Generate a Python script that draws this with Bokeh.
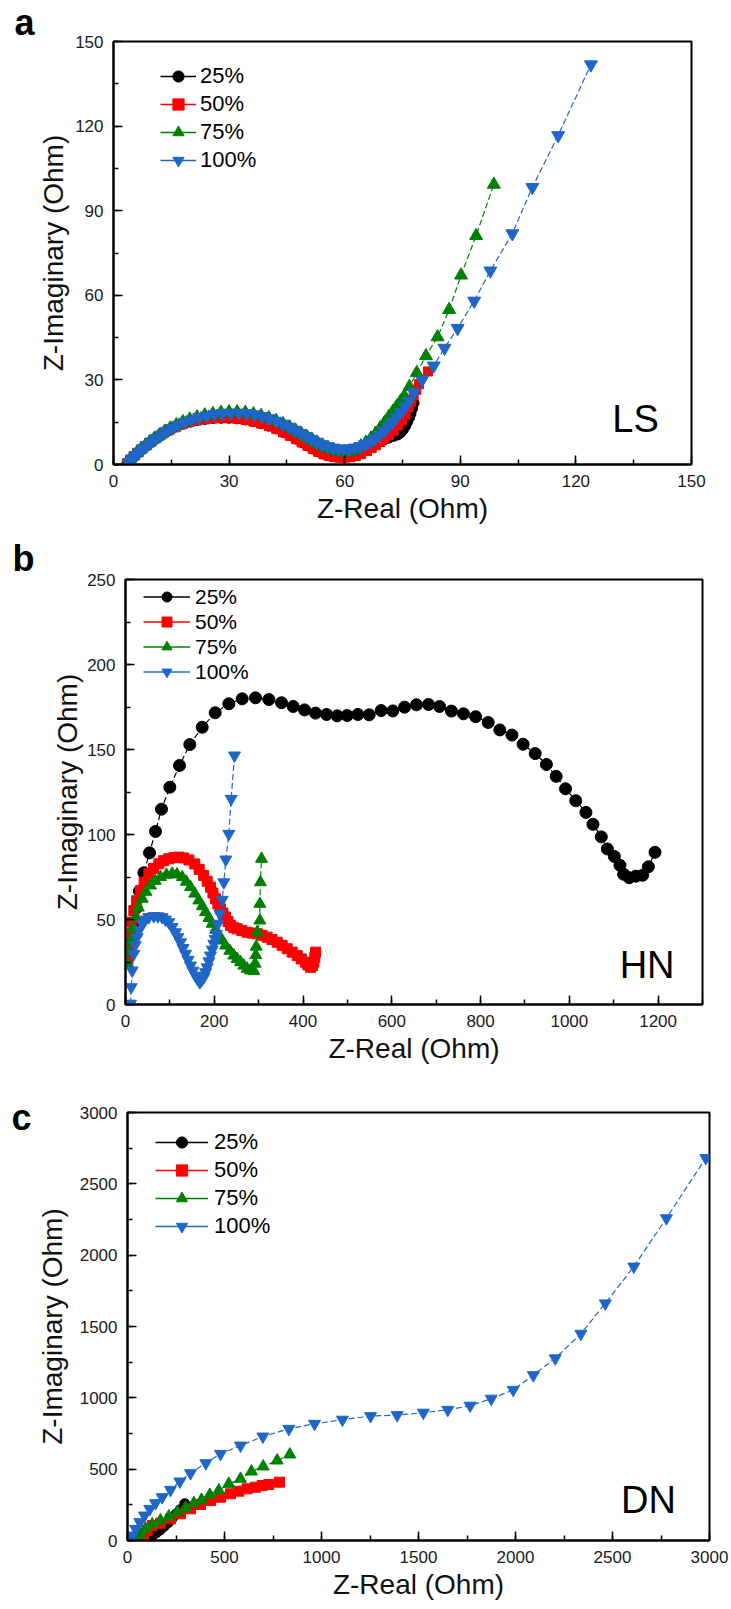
import numpy as np
from bokeh.plotting import figure
from bokeh.models import Legend, LegendItem, Label, Range1d, SingleIntervalTicker
from bokeh.embed import file_html
from bokeh.resources import INLINE

FONT = "Liberation Sans"
SERIES = ["25%", "50%", "75%", "100%"]
COLORS = ["#000000", "#FF0000", "#008000", "#1F66C8"]
MARKERS = ["circle", "square", "triangle", "inverted_triangle"]

# ---------------- Panel a : LS ----------------
a25_x = [3.5, 4.3, 5.2, 6.1, 7.1, 8.2, 9.3, 10.5, 11.8, 13.2, 14.7, 16.3, 18.0, 19.8, 21.7, 23.7, 25.8, 27.9, 30.0, 32.1,
         34.2, 36.3, 38.3, 40.3, 42.2, 44.0, 45.7, 47.3, 48.8, 50.3, 51.7, 53.1, 54.5, 55.9, 57.3, 58.7, 60.1, 61.5, 63.0,
         64.5, 66.0, 67.4, 68.8, 70.2, 71.5, 72.8, 73.8, 74.5, 75.2, 75.8, 76.3, 76.8, 77.2, 77.6, 78.0]
a25_y = [0.5, 1.7, 2.9, 4.1, 5.3, 6.5, 7.7, 8.9, 10.1, 11.3, 12.4, 13.4, 14.3, 15.0, 15.6, 16.0, 16.3, 16.4, 16.4, 16.2,
         15.8, 15.2, 14.5, 13.6, 12.6, 11.4, 10.2, 9.0, 7.8, 6.6, 5.5, 4.5, 3.7, 3.1, 2.8, 2.7, 2.9, 3.4, 4.2,
         5.1, 6.0, 6.9, 7.8, 8.7, 9.4, 10.0, 10.5, 11.2, 12.3, 13.6, 15.0, 16.5, 18.0, 19.8, 21.8]
a50_x = [3.5, 4.3, 5.2, 6.1, 7.1, 8.2, 9.3, 10.5, 11.8, 13.2, 14.7, 16.3, 18.0, 19.8, 21.7, 23.7, 25.8, 27.9, 30.0, 32.1,
         34.2, 36.3, 38.3, 40.3, 42.2, 44.0, 45.7, 47.3, 48.8, 50.3, 51.7, 53.1, 54.5, 55.9, 57.3, 58.7, 60.1, 61.5, 62.9,
         64.3, 65.8, 67.0, 68.1, 69.2, 70.2, 71.5, 72.7, 73.8, 74.9, 75.8, 76.6, 77.3, 77.9, 78.6, 79.3, 81.6]
a50_y = [0.5, 1.7, 2.9, 4.1, 5.3, 6.5, 7.7, 8.9, 10.1, 11.3, 12.4, 13.4, 14.3, 15.0, 15.6, 16.0, 16.3, 16.4, 16.4, 16.2,
         15.8, 15.2, 14.5, 13.6, 12.6, 11.4, 10.2, 9.0, 7.8, 6.6, 5.5, 4.5, 3.6, 3.0, 2.6, 2.4, 2.4, 2.6, 3.0,
         3.7, 4.8, 5.8, 6.8, 8.0, 9.1, 10.5, 12.0, 13.8, 15.6, 17.8, 20.3, 22.3, 24.5, 26.5, 28.5, 33.0]
a75_x = [3.5, 4.3, 5.2, 6.1, 7.1, 8.2, 9.3, 10.5, 11.8, 13.2, 14.7, 16.3, 18.0, 19.8, 21.7, 23.7, 25.8, 27.9, 30.0, 32.1,
         34.2, 36.3, 38.3, 40.3, 42.2, 44.0, 45.7, 47.3, 48.8, 50.3, 51.7, 53.1, 54.5, 55.9, 57.3, 58.7, 60.1, 61.5, 62.9,
         64.2, 65.5, 66.8, 68.0, 69.2, 70.3, 71.4, 72.5, 73.5, 74.5, 75.5, 76.8, 78.7, 81.1, 84.1, 87.1, 90.2, 94.1, 98.7]
a75_y = [0.6, 1.8, 3.0, 4.2, 5.4, 6.6, 7.8, 9.0, 10.3, 11.6, 12.8, 14.0, 15.1, 16.0, 16.8, 17.5, 18.0, 18.4, 18.6, 18.6,
         18.4, 17.9, 17.3, 16.5, 15.5, 14.4, 13.2, 12.0, 10.8, 9.6, 8.5, 7.4, 6.4, 5.5, 4.9, 4.5, 4.4, 4.6, 5.2,
         6.5, 7.8, 9.3, 11.0, 12.9, 14.8, 16.8, 18.8, 20.6, 22.4, 24.3, 27.6, 32.5, 38.5, 45.2, 54.9, 67.1, 81.1, 99.3]
a100_x = [4.0, 4.8, 5.7, 6.6, 7.6, 8.7, 9.8, 11.0, 12.3, 13.7, 15.2, 16.8, 18.5, 20.3, 22.2, 24.2, 26.2, 28.3, 30.4, 32.5,
          34.6, 36.6, 38.6, 40.5, 42.3, 44.0, 45.6, 47.1, 48.6, 50.0, 51.4, 52.8, 54.2, 55.6, 57.0, 58.4, 59.8, 61.2, 62.6,
          64.0, 65.3, 66.6, 67.8, 69.0, 70.2, 71.3, 72.4, 73.5, 74.6, 75.7, 76.8, 78.0, 80.1, 83.1, 85.9, 89.3, 93.6, 97.8,
          103.5, 108.7, 115.4, 123.9]
a100_y = [0.8, 2.0, 3.2, 4.4, 5.6, 6.8, 8.0, 9.2, 10.5, 11.7, 12.9, 14.0, 15.0, 15.9, 16.7, 17.3, 17.8, 18.1, 18.3, 18.3,
          18.1, 17.7, 17.1, 16.3, 15.4, 14.4, 13.3, 12.2, 11.1, 10.0, 9.0, 8.0, 7.1, 6.4, 5.9, 5.6, 5.5, 5.6, 5.9,
          6.4, 7.1, 8.0, 9.1, 10.4, 11.9, 13.4, 15.0, 16.7, 18.5, 20.5, 22.6, 25.5, 30.0, 35.0, 41.3, 48.3, 58.0, 68.7,
          81.9, 98.3, 116.7, 141.8]

# ---------------- Panel b : HN ----------------
b25_x = [3.5, 6.8, 12.8, 18.8, 24.0, 31.5, 41.3, 54.1, 67.6, 81.1, 99.9, 121.7, 144.9, 172.8, 202.1, 232.8, 262.9, 292.9,
         323.0, 351.5, 377.8, 403.4, 428.1, 453.0, 477.0, 499.5, 523.5, 549.0, 576.1, 602.3, 628.7, 655.7, 682.7, 707.5,
         734.3, 761.6, 788.8, 817.2, 843.4, 870.7, 895.8, 923.1, 948.3, 970.3, 991.3, 1014.4, 1037.4, 1053.2, 1072.0,
         1085.7, 1101.4, 1114.0, 1122.4, 1135.0, 1150.0, 1165.0, 1178.0, 1193.0]
b25_y = [26.0, 32.7, 39.6, 47.4, 56.7, 66.7, 77.5, 89.2, 101.8, 114.9, 127.8, 140.6, 152.9, 163.1, 171.6, 176.9, 179.8, 180.4,
         179.4, 177.5, 175.3, 173.3, 171.4, 170.6, 169.8, 170.0, 170.6, 170.4, 172.9, 172.7, 174.9, 176.3, 176.5, 175.3,
         172.6, 171.0, 169.3, 165.9, 161.5, 158.5, 153.1, 147.6, 141.2, 134.2, 126.9, 119.9, 113.0, 106.0, 98.6,
         91.5, 87.1, 81.9, 76.6, 74.6, 75.5, 76.0, 81.0, 89.5]
b50_x = [3.8, 6.0, 9.0, 13.0, 18.8, 25.0, 33.8, 42.0, 52.6, 63.0, 75.1, 86.0, 97.6, 109.0, 120.0, 131.0, 143.0, 156.0,
         166.0, 176.0, 184.0, 191.5, 197.0, 202.8, 208.0, 214.0, 219.5, 225.3, 231.0, 236.6, 244.0, 251.6, 262.0, 274.0,
         285.0, 296.7, 308.0, 319.0, 330.0, 341.8, 353.0, 364.3, 375.5, 386.9, 396.0, 405.6, 411.0, 416.9, 421.0, 424.4,
         426.5, 428.1]
b50_y = [25.9, 33.0, 41.6, 48.5, 55.3, 61.0, 67.0, 72.0, 76.9, 80.0, 82.8, 84.6, 85.7, 86.4, 86.7, 86.2, 85.0, 82.7,
         79.5, 75.9, 72.5, 69.0, 65.6, 62.2, 59.2, 56.3, 53.8, 51.4, 48.8, 46.5, 45.2, 44.5, 43.5, 42.5,
         42.0, 41.6, 40.7, 39.6, 38.2, 36.6, 34.8, 32.8, 30.8, 28.8, 26.8, 24.9, 23.3, 21.9, 22.8, 24.9,
         27.8, 30.8]
b75_x = [5.0, 8.0, 11.3, 16.0, 22.5, 29.0, 37.6, 46.0, 56.3, 67.0, 78.9, 92.0, 105.2, 116.0, 127.8, 137.0, 146.5, 156.0,
         165.2, 173.0, 180.3, 188.0, 195.3, 203.0, 210.3, 218.0, 225.3, 235.0, 244.1, 251.5, 259.1, 266.5, 274.2, 281.7,
         289.2, 292.0, 293.5, 294.5, 296.7, 302.7, 302.7, 304.0, 306.5]
b75_y = [24.0, 31.0, 37.6, 44.5, 51.4, 57.0, 62.2, 66.3, 70.0, 72.7, 74.9, 76.3, 76.9, 76.5, 74.9, 72.2, 69.0, 65.2,
         61.2, 57.8, 54.3, 50.9, 47.5, 44.0, 40.6, 37.6, 34.7, 31.6, 28.8, 26.8, 24.9, 22.9, 21.0, 20.0,
         19.6, 24.0, 29.0, 34.0, 42.5, 49.4, 59.2, 71.9, 85.7]
b100_x = [11.3, 12.8, 15.0, 18.8, 22.0, 26.3, 31.0, 37.6, 45.0, 52.6, 63.8, 73.0, 82.6, 90.0, 97.6, 105.0, 112.7, 118.0,
          123.9, 129.5, 135.2, 141.0, 146.5, 152.0, 157.7, 162.5, 167.5, 172.0, 176.5, 180.5, 184.0, 188.0, 191.5, 195.5,
          199.0, 202.0, 205.0, 208.0, 212.5, 217.9, 221.5, 226.0, 232.8, 238.1, 245.6]
b100_y = [0.5, 10.2, 20.0, 29.8, 35.0, 39.6, 43.8, 47.5, 50.0, 51.5, 52.0, 51.9, 51.4, 50.0, 48.4, 45.6, 42.5, 39.6,
          36.6, 33.2, 29.8, 26.3, 22.9, 19.9, 17.0, 15.0, 13.1, 14.5, 16.1, 19.0, 21.9, 25.4, 28.8, 32.3,
          35.7, 38.6, 41.6, 47.5, 53.4, 61.6, 71.9, 85.3, 100.4, 121.0, 146.5]

# ---------------- Panel c : DN ----------------
c25_x = [100, 115, 130, 150, 170, 190, 210, 230, 250, 270, 295]
c25_y = [5, 20, 35, 55, 75, 100, 125, 155, 185, 215, 258]
c50_x = [75.6, 84.4, 101.5, 127.3, 170.1, 221.6, 273.2, 324.7, 376.3, 427.8, 479.4, 530.9, 573.9, 616.8, 659.8, 694.0,
         728.4, 783.5]
c50_y = [4.9, 23.1, 70.1, 105.1, 121.2, 152.1, 187.1, 221.8, 252.3, 280.3, 303.7, 327.3, 345.5, 362.3, 373.5, 385.4,
         392.4, 408.7]
c75_x = [53.3, 67.0, 92.8, 127.3, 170.0, 213.0, 256.0, 299.0, 341.8, 381.4, 424.3, 470.6, 522.0, 582.5, 639.0, 699.3,
         771.5, 836.6]
c75_y = [11.7, 46.8, 81.8, 112.1, 140.2, 168.2, 198.3, 229.2, 261.7, 285.2, 320.2, 350.4, 397.0, 432.0, 483.5, 518.6,
         560.6, 602.7]
c100_x = [8.0, 15.5, 24.1, 41.2, 63.6, 87.6, 115.0, 144.3, 178.7, 221.6, 269.8, 324.7, 403.8, 479.4, 582.5, 697.6, 831.6,
          964, 1108, 1253, 1390, 1525, 1651, 1766, 1875, 1988, 2092, 2205, 2337, 2463, 2610, 2778, 2981]
c100_y = [2.0, 11.7, 35.0, 81.8, 128.6, 175.2, 221.8, 261.7, 303.7, 355.0, 413.5, 471.8, 542.0, 607.2, 665.7, 728.8, 782.5,
          818, 847, 872, 879, 896, 916, 945, 994, 1056, 1159, 1277, 1449, 1662, 1920, 2259, 2681]

NAN = np.array([np.nan])


def make_panel(height, border, xr, yr, xstep, ystep, xs, ys, sizes, leg, tag, ylab_standoff, letter):
    p = figure(width=731, height=height, output_backend="svg", toolbar_location=None,
               x_range=Range1d(*xr), y_range=Range1d(*yr),
               min_border_top=border[0], min_border_right=border[1],
               min_border_bottom=border[2], min_border_left=border[3])
    p.xgrid.visible = False
    p.ygrid.visible = False
    p.background_fill_color = "white"
    p.border_fill_color = "white"
    p.outline_line_color = "black"
    p.outline_line_width = 2
    p.xaxis.ticker = SingleIntervalTicker(interval=xstep, num_minor_ticks=2)
    p.yaxis.ticker = SingleIntervalTicker(interval=ystep, num_minor_ticks=2)
    for ax in (p.xaxis[0], p.yaxis[0]):
        ax.axis_line_width = 2
        ax.axis_line_color = "black"
        ax.major_tick_in = 9
        ax.major_tick_out = 0
        ax.minor_tick_in = 5
        ax.minor_tick_out = 0
        ax.major_tick_line_width = 1.5
        ax.minor_tick_line_width = 1.5
        ax.major_label_text_font = FONT
        ax.major_label_text_font_size = "17px"
        ax.major_label_text_color = "#1a1a1a"
        ax.major_label_standoff = 10
        ax.axis_label_text_font = FONT
        ax.axis_label_text_font_size = "28px"
        ax.axis_label_text_font_style = "normal"
        ax.axis_label_text_color = "#111111"
    p.xaxis.axis_label = "Z-Real (Ohm)"
    p.yaxis.axis_label = "Z-Imaginary (Ohm)"
    p.xaxis.axis_label_standoff = 3
    p.yaxis.axis_label_standoff = ylab_standoff

    items = []
    for i in range(4):
        p.line(xs[i], ys[i], line_color=COLORS[i], line_width=1.2, line_dash="6 3")
        sr = p.scatter(xs[i], ys[i], marker=MARKERS[i], size=sizes[i],
                       fill_color=COLORS[i], line_color=COLORS[i])
        # solid key line for the legend only (no visible data)
        lr = p.line(NAN, NAN, line_color=COLORS[i], line_width=1.5)
        items.append(LegendItem(label=SERIES[i], renderers=[lr, sr]))
    legend = Legend(items=items, location=(leg[0], leg[1]), glyph_width=leg[2],
                    glyph_height=leg[3], label_height=leg[3], spacing=0, padding=0, margin=0,
                    label_standoff=leg[4], label_text_font=FONT, label_text_font_size=leg[5],
                    label_text_color="black",
                    border_line_color=None, background_fill_alpha=0)
    p.add_layout(legend)

    p.add_layout(Label(x=tag[1], y=tag[2], text=tag[0], text_align="right", text_baseline="alphabetic",
                       text_font=FONT, text_font_size="38px", text_color="black"))
    p.add_layout(Label(x=letter[1], y=letter[2], x_units="screen", y_units="screen", text=letter[0],
                       text_align="left", text_baseline="alphabetic", text_font=FONT,
                       text_font_size="36px", text_font_style="bold", text_color="black"), "left")
    return p


pa = make_panel(528, (41, 40, 64, 113), (0, 150), (0, 150), 30, 30,
                [a25_x, a50_x, a75_x, a100_x], [a25_y, a50_y, a75_y, a100_y],
                [10, 9, 13, 13], (47, 290, 36, 28, 4, "22px"), ("LS", 141.5, 16.0), 3, ("a", -1, 442))
pb = make_panel(544, (51, 29, 68, 125), (0, 1300), (0, 250), 200, 50,
                [b25_x, b50_x, b75_x, b100_x], [b25_y, b50_y, b75_y, b100_y],
                [12, 10, 12, 12], (18, 320, 47, 25, 5, "21px"), ("HN", 1237, 23.5), 1, ("b", -15, 446))
pc = make_panel(537, (40, 22, 69, 127), (0, 3000), (0, 3000), 500, 500,
                [c25_x, c50_x, c75_x, c100_x], [c25_y, c50_y, c75_y, c100_y],
                [10, 10, 12, 12], (28, 300, 53, 28, 6, "22px"), ("DN", 2827, 287), 9, ("c", -2, 423))

open("out.html", "w").write(file_html([pa, pb, pc], INLINE))
